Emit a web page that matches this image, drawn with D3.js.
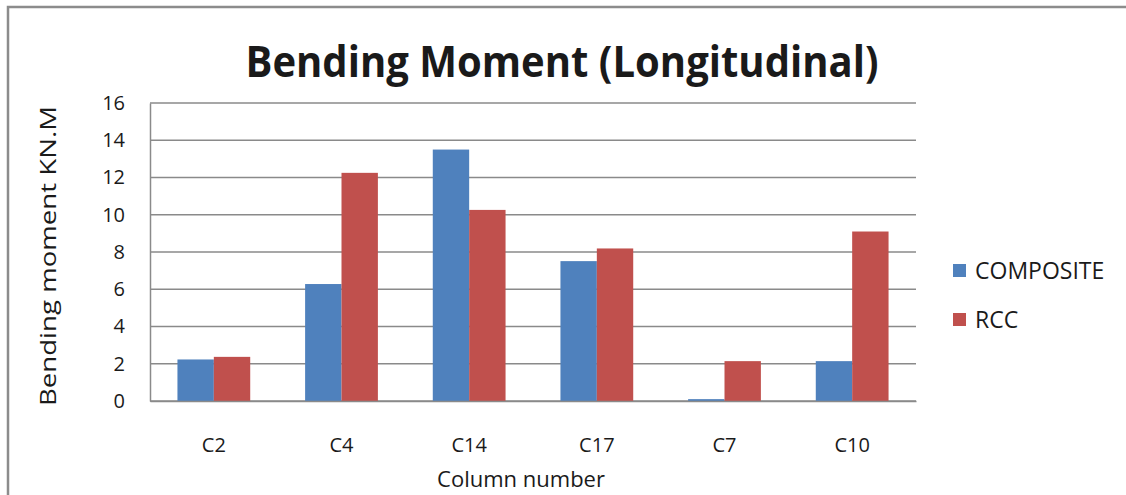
<!DOCTYPE html>
<html>
<head>
<meta charset="utf-8">
<script src="https://cdn.jsdelivr.net/npm/d3@7"></script>
<style>
  body { margin: 0; background: #fff; overflow: hidden; }
  text { font-family: "Open Sans", "Liberation Sans", sans-serif; fill: #1a1a1a; }
</style>
</head>
<body>
<svg id="chart" width="1126" height="495"></svg>
<script>
// Chart data
const columns = ['C2', 'C4', 'C14', 'C17', 'C7', 'C10'];
const seriesNames = ['COMPOSITE', 'RCC'];
const composite = [2.23, 6.28, 13.5, 7.51, 0.1, 2.14];
const rcc = [2.37, 12.25, 10.26, 8.19, 2.14, 9.1];
const yTicks = [0, 2, 4, 6, 8, 10, 12, 14, 16];
const colors = ['#4F81BD', '#C0504D'];

const width = 1126, height = 495;
const margin = { top: 103, right: 210, bottom: 94, left: 150 };
const chartWidth = width - margin.left - margin.right;
const chartHeight = height - margin.top - margin.bottom;

const svg = d3.select('#chart');

// frame around the chart (only top and left show in the picture)
svg.append('path')
  .attr('d', `M8,${height} L8,7 L${width},7`)
  .attr('fill', 'none')
  .attr('stroke', '#8c8c8c')
  .attr('stroke-width', 2.5);

const xScale = d3.scaleBand()
  .domain(columns)
  .range([0, chartWidth])
  .paddingInner(0.43)
  .paddingOuter(0.215);

const xInner = d3.scaleBand()
  .domain(seriesNames)
  .range([0, xScale.bandwidth()]);

const yScale = d3.scaleLinear()
  .domain([0, 16])
  .range([chartHeight, 0]);

const chart = svg.append('g')
  .attr('transform', `translate(${margin.left}, ${margin.top})`);

// gridlines
chart.append('g')
  .selectAll('line')
  .data(yTicks)
  .enter()
  .append('line')
  .attr('x1', 0)
  .attr('x2', chartWidth)
  .attr('y1', (d) => yScale(d))
  .attr('y2', (d) => yScale(d))
  .attr('stroke', '#8a8a8a')
  .attr('stroke-width', 1.5);

// y axis
const yAxis = chart.append('g')
  .call(d3.axisLeft(yScale).tickValues(yTicks).tickSize(0).tickPadding(25));
yAxis.select('.domain').attr('stroke', '#8a8a8a').attr('stroke-width', 1.5);
yAxis.selectAll('text')
  .style('font-size', '20px')
  .style('font-family', '"Open Sans", sans-serif')
  .attr('fill', '#1a1a1a');

// bars
const rows = columns.map((c, i) => ({ col: c, values: [composite[i], rcc[i]] }));
const groups = chart.selectAll('.grp')
  .data(rows)
  .enter()
  .append('g')
  .attr('transform', (d) => `translate(${xScale(d.col)}, 0)`);

groups.selectAll('rect')
  .data((d) => d.values.map((v, j) => ({ name: seriesNames[j], v: v, j: j })))
  .enter()
  .append('rect')
  .attr('x', (d) => xInner(d.name))
  .attr('y', (d) => yScale(d.v))
  .attr('width', xInner.bandwidth())
  .attr('height', (d) => chartHeight - yScale(d.v))
  .attr('fill', (d) => colors[d.j]);

// x axis
const xAxis = chart.append('g')
  .attr('transform', `translate(0, ${chartHeight})`)
  .call(d3.axisBottom(xScale).tickSize(0).tickPadding(37));
xAxis.select('.domain').attr('stroke', '#8a8a8a').attr('stroke-width', 1.5);
xAxis.selectAll('text')
  .style('font-size', '20px')
  .style('font-family', '"Open Sans", sans-serif')
  .attr('fill', '#1a1a1a');

// title
svg.append('text')
  .attr('x', 562)
  .attr('y', 77)
  .attr('text-anchor', 'middle')
  .attr('textLength', 633)
  .attr('lengthAdjust', 'spacingAndGlyphs')
  .style('font-size', '43px')
  .style('font-weight', 'bold')
  .attr('fill', '#000')
  .text('Bending Moment (Longitudinal)');

// x axis label
svg.append('text')
  .attr('x', 521)
  .attr('y', 487)
  .attr('text-anchor', 'middle')
  .style('font-size', '22px')
  .text('Column number');

// y axis label
svg.append('text')
  .attr('transform', 'translate(56, 256) rotate(-90)')
  .attr('text-anchor', 'middle')
  .attr('textLength', 300)
  .attr('lengthAdjust', 'spacingAndGlyphs')
  .style('font-size', '22px')
  .text('Bending moment KN.M');

// legend
const legend = svg.append('g')
  .selectAll('g')
  .data(seriesNames)
  .enter()
  .append('g')
  .attr('transform', (d, i) => `translate(953, ${264 + i * 49})`);

legend.append('rect')
  .attr('width', 13)
  .attr('height', 13)
  .attr('fill', (d, i) => colors[i]);

legend.append('text')
  .attr('x', 22)
  .attr('y', 15)
  .style('font-size', '23px')
  .text((d) => d);
</script>
</body>
</html>
